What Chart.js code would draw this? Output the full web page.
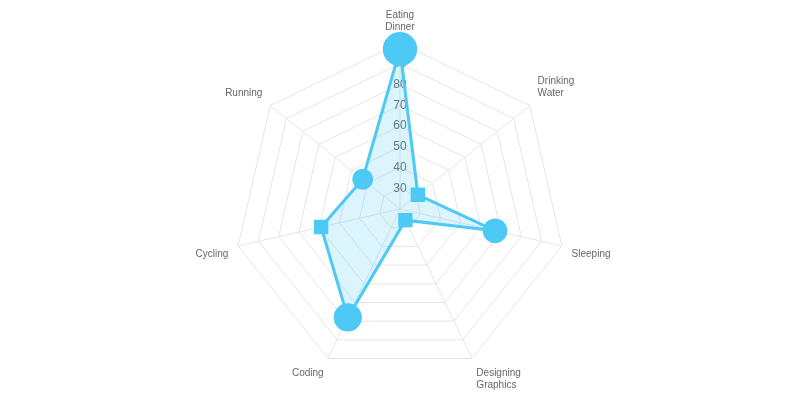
<!DOCTYPE html>
<html><head><script src="https://cdn.jsdelivr.net/npm/chart.js@4"></script>
<style>body{margin:0}#w{width:800px;height:400px}</style></head>
<body><div id="w"><canvas id="c"></canvas></div>
<script>
const labels=[['Eating','Dinner'],['Drinking','Water'],'Sleeping',['Designing','Graphics'],'Coding','Cycling','Running'];
const values=[97,31,67,26,78,59,43];
const styles=['circle','rect','circle','rect','circle','rect','circle'];
const col='rgb(77,201,246)';
new Chart(document.getElementById('c'),{type:'radar',
data:{labels:labels,datasets:[{data:values,borderColor:col,backgroundColor:'rgba(77,201,246,0.2)',borderWidth:3,
pointBackgroundColor:col,pointBorderColor:col,pointStyle:styles,
pointRadius:c=>{const v=c.raw;return styles[c.dataIndex]==='rect'?8:Math.max(9,v/6.2);}}]},
options:{responsive:true,maintainAspectRatio:false,animation:false,
layout:{padding:{top:-4,bottom:-16}},
plugins:{legend:{display:false},tooltip:{enabled:false}},
scales:{r:{min:20,max:100,ticks:{stepSize:10,backdropColor:'rgba(0,0,0,0)',color:'#666',font:{size:12}},
pointLabels:{font:{size:10},color:'#666',padding:2},grid:{color:'#e5e5e5'},angleLines:{color:'#e5e5e5'}}}}});
</script></body></html>
